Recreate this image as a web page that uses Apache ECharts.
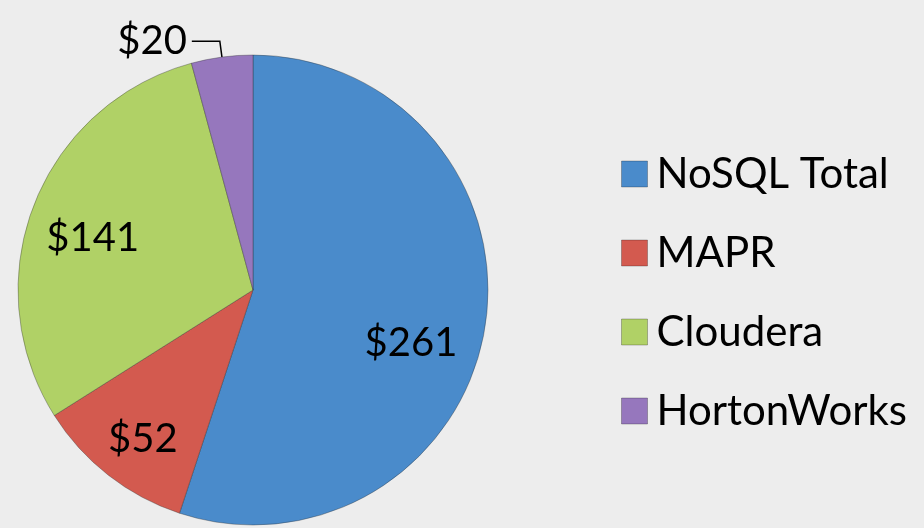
<!DOCTYPE html>
<html>
<head>
<meta charset="utf-8">
<script src="https://cdn.jsdelivr.net/npm/echarts@6/dist/echarts.min.js"></script>
<style>
  html, body { margin: 0; padding: 0; background: #ededed; }
  #pieChart { width: 924px; height: 528px; }
</style>
</head>
<body>
<div id="pieChart"></div>
<script>
var categories = ['NoSQL Total', 'MAPR', 'Cloudera', 'HortonWorks']
var values = [261, 52, 141, 20]
var colors = ['#4a8bcb', '#d35a4f', '#b0d166', '#9677bd']
// label nudges away from the default half-radius spot
var labelOffsets = [[39, 34], [-36, 54], [-48, -8], null]

var chart = echarts.init(document.getElementById('pieChart'))

var data = categories.map(function (name, i) {
  var item = {
    name: name,
    value: values[i],
    itemStyle: {color: colors[i]}
  }
  if (labelOffsets[i]) {
    item.label = {position: 'inside', offset: labelOffsets[i]}
  } else {
    item.label = {position: 'outside'}
    item.labelLine = {show: true, length: 16, length2: 28, lineStyle: {color: '#000', width: 1.5}}
  }
  return item
})

var option = {
  backgroundColor: '#ededed',
  animation: false,
  legend: {
    orient: 'vertical',
    left: 616,
    top: 148,
    itemWidth: 26,
    itemHeight: 26,
    itemGap: 37,
    icon: 'rect',
    data: categories,
    itemStyle: {borderColor: 'rgba(0,0,0,0.25)', borderWidth: 1},
    textStyle: {
      fontFamily: 'Lato',
      fontSize: 42,
      lineHeight: 42,
      color: '#000',
      padding: [0, 0, 0, 4]
    }
  },
  series: [{
    type: 'pie',
    center: [253, 290],
    radius: 235,
    startAngle: 90,
    clockwise: true,
    data: data,
    itemStyle: {borderColor: 'rgba(40,40,40,0.35)', borderWidth: 1},
    label: {
      show: true,
      formatter: function (p) { return '$' + p.value },
      fontFamily: 'Lato',
      fontSize: 40,
      color: '#000'
    },
    labelLine: {show: false},
    emphasis: {disabled: true}
  }]
}

chart.setOption(option)
</script>
</body>
</html>
